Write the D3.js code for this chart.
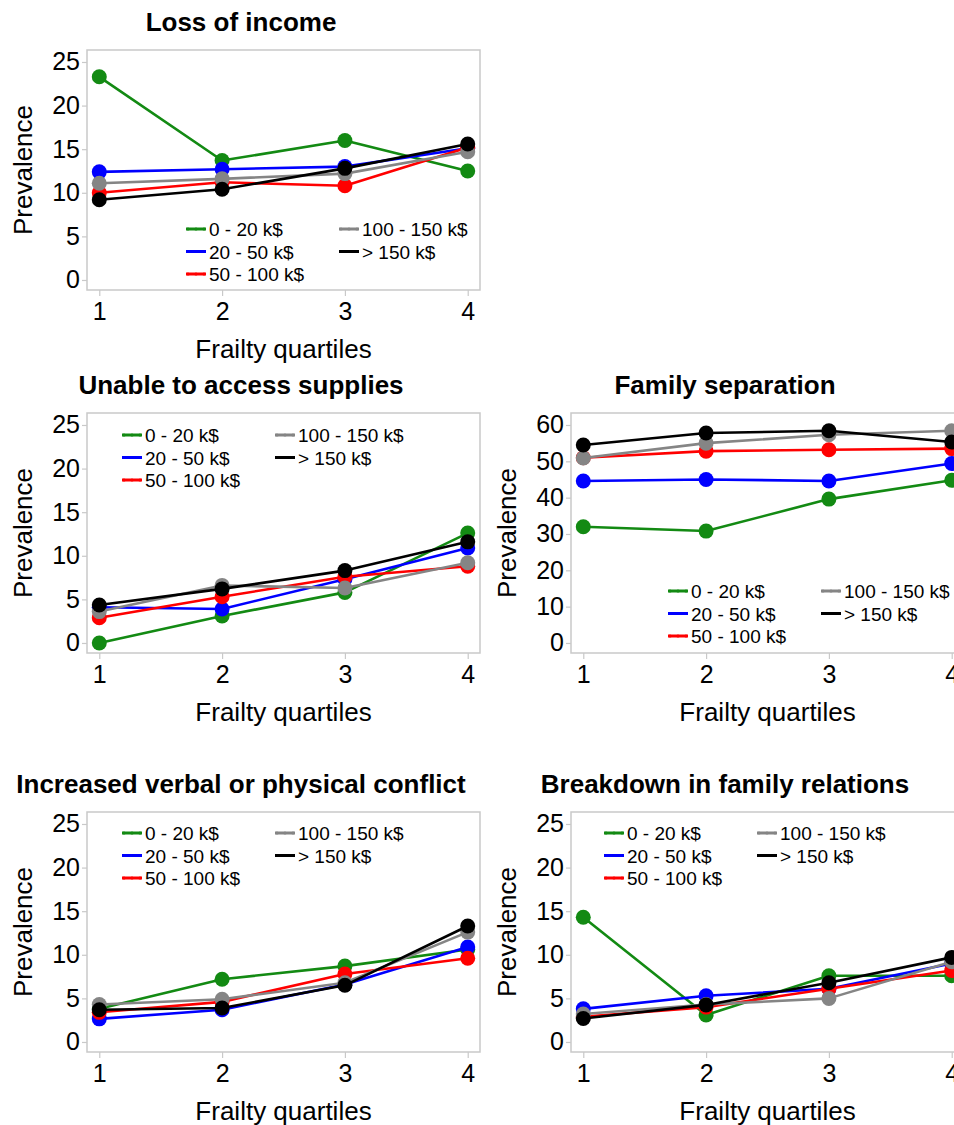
<!DOCTYPE html>
<html>
<head>
<meta charset="utf-8">
<script src="https://cdn.jsdelivr.net/npm/d3@7"></script>
<style>
  body { margin: 0; background: #fff; }
  svg { display: block; font-family: "Liberation Sans", Arial, sans-serif; }
</style>
</head>
<body>
<svg id="chart" width="954" height="1125"></svg>
<script>
// ---- data ----
const quartiles = [1, 2, 3, 4];
const seriesNames = ["0 - 20 k$", "20 - 50 k$", "50 - 100 k$", "100 - 150 k$", "> 150 k$"];
const seriesColors = ["#138a13", "#0000ff", "#ff0000", "#858585", "#000000"];

const titles = ["Loss of income", "Unable to access supplies", "Family separation",
                "Increased verbal or physical conflict", "Breakdown in family relations"];

const ticks25 = [0, 5, 10, 15, 20, 25];
const ticks60 = [0, 10, 20, 30, 40, 50, 60];

const lossIncome = [
  [23.3, 13.7, 16.0, 12.5],
  [12.4, 12.7, 13.0, 15.1],
  [10.0, 11.2, 10.8, 15.2],
  [11.1, 11.6, 12.2, 14.7],
  [9.2, 10.4, 12.8, 15.6]
];
const supplies = [
  [0.0, 3.1, 5.8, 12.6],
  [4.1, 3.9, 7.3, 10.9],
  [2.9, 5.3, 7.6, 8.8],
  [3.6, 6.6, 6.3, 9.2],
  [4.35, 6.2, 8.3, 11.6]
];
const familySeparation = [
  [32.0, 30.8, 39.6, 44.8],
  [44.6, 45.0, 44.6, 49.4],
  [51.0, 52.8, 53.2, 53.5],
  [50.9, 55.0, 57.3, 58.4],
  [54.5, 57.8, 58.4, 55.3]
];
const conflict = [
  [3.8, 7.2, 8.7, 10.6],
  [2.65, 3.7, 6.6, 10.9],
  [3.4, 4.6, 7.8, 9.6],
  [4.3, 4.9, 6.8, 12.6],
  [3.7, 3.9, 6.5, 13.3]
];
const breakdown = [
  [14.3, 3.1, 7.6, 7.6],
  [3.8, 5.3, 6.1, 9.0],
  [2.9, 4.0, 6.1, 8.2],
  [3.2, 4.3, 5.0, 9.2],
  [2.7, 4.25, 6.8, 9.7]
];

// ---- layout ----
const svg = d3.select("#chart");
svg.append("rect").attr("width", 954).attr("height", 1125).attr("fill", "#fff");

const frameW = 393, frameH = 240;
const panels = [
  { values: lossIncome,       ticks: ticks25, fx: 87,  fy: 50,  legend: { x: 99, y: -61, fromBottom: true } },
  { values: supplies,         ticks: ticks25, fx: 87,  fy: 413, legend: { x: 35, y: 22,  fromBottom: false } },
  { values: familySeparation, ticks: ticks60, fx: 571, fy: 413, legend: { x: 97, y: -62, fromBottom: true } },
  { values: conflict,         ticks: ticks25, fx: 87,  fy: 812, legend: { x: 35, y: 21,  fromBottom: false } },
  { values: breakdown,        ticks: ticks25, fx: 571, fy: 812, legend: { x: 33, y: 21,  fromBottom: false } }
];

panels.forEach((p, i) => {
  const g = svg.append("g").attr("transform", `translate(${p.fx},${p.fy})`);
  const maxT = d3.max(p.ticks);
  const x = d3.scaleLinear().domain([0.9, 4.1]).range([0, frameW]);
  const y = d3.scaleLinear().domain([-0.046 * maxT, 1.055 * maxT]).range([frameH, 0]);

  // title
  svg.append("text")
    .attr("x", p.fx - 87 + 241).attr("y", p.fy - 19)
    .attr("text-anchor", "middle")
    .attr("font-size", 26).attr("font-weight", "bold").attr("fill", "#000")
    .text(titles[i]);

  // frame
  g.append("rect").attr("x", 0).attr("y", 0).attr("width", frameW).attr("height", frameH)
    .attr("fill", "none").attr("stroke", "#c9c9c9").attr("stroke-width", 1.5);

  // axes
  const yAxis = g.append("g").call(d3.axisLeft(y).tickValues(p.ticks).tickSize(5).tickPadding(2).tickFormat(d3.format("d")));
  const xAxis = g.append("g").attr("transform", `translate(0,${frameH})`)
    .call(d3.axisBottom(x).tickValues(quartiles).tickSize(6).tickPadding(6).tickFormat(d3.format("d")));
  [yAxis, xAxis].forEach(a => {
    a.select(".domain").remove();
    a.selectAll(".tick line").attr("stroke", "#c9c9c9").attr("stroke-width", 1.2);
    a.selectAll(".tick text").attr("font-size", 25).attr("fill", "#000")
      .attr("font-family", "Liberation Sans, Arial, sans-serif");
  });

  // axis titles
  g.append("text").attr("x", frameW / 2).attr("y", frameH + 68)
    .attr("text-anchor", "middle").attr("font-size", 26).attr("fill", "#000")
    .text("Frailty quartiles");
  g.append("text")
    .attr("transform", `translate(${-55},${frameH / 2}) rotate(-90)`)
    .attr("text-anchor", "middle").attr("font-size", 26).attr("fill", "#000")
    .text("Prevalence");

  // series
  const line = d3.line().x((d, j) => x(quartiles[j])).y(d => y(d));
  p.values.forEach((vals, s) => {
    const sg = g.append("g");
    sg.append("path").datum(vals).attr("d", line)
      .attr("fill", "none").attr("stroke", seriesColors[s]).attr("stroke-width", 2.6)
      .attr("stroke-linejoin", "round");
    sg.selectAll("circle").data(vals).join("circle")
      .attr("cx", (d, j) => x(quartiles[j])).attr("cy", d => y(d))
      .attr("r", 7.5).attr("fill", seriesColors[s]);
  });

  // legend
  const ly0 = p.legend.fromBottom ? frameH + p.legend.y : p.legend.y;
  const colX = [p.legend.x, p.legend.x + 153];
  const positions = [[0, 0], [0, 1], [0, 2], [1, 0], [1, 1]];
  seriesNames.forEach((name, s) => {
    const [c, r] = positions[s];
    const lx = colX[c], ly = ly0 + r * 22.5;
    const lg = g.append("g").attr("transform", `translate(${lx},${ly})`);
    lg.append("line").attr("x1", 0).attr("x2", 20).attr("y1", 0).attr("y2", 0)
      .attr("stroke", seriesColors[s]).attr("stroke-width", 3);
    [2, 10, 18].forEach(cx => lg.append("circle").attr("cx", cx).attr("cy", 0).attr("r", 1.6)
      .attr("fill", seriesColors[s]));
    lg.append("text").attr("x", 23).attr("y", 7).attr("font-size", 19).attr("fill", "#000")
      .text(name);
  });
});
</script>
</body>
</html>
